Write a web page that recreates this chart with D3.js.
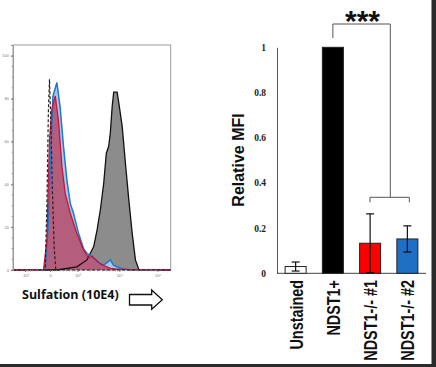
<!DOCTYPE html>
<html>
<head>
<meta charset="utf-8">
<script src="https://cdn.jsdelivr.net/npm/d3@7"></script>
<style>
  body { margin: 0; background: #fff; }
  svg { display: block; }
</style>
</head>
<body>
<svg id="chart" width="436" height="367"></svg>
<script>
// ---- histogram data: [channel (0-1024), count] ----
var unstainedHist = [[0, 0], [209, 0], [220, 30], [230, 75], [237, 89], [246, 68], [256, 37], [267, 11], [278, 0], [1024, 0]];
var ndstPosHist = [[0, 0], [285, 0], [415, 1.5], [480, 4.7], [524, 10.9], [546, 18.7], [567, 28], [589, 40.5], [606, 54.5],
  [621, 57.6], [632, 64], [644, 76.3], [654, 83], [676, 83], [687, 78], [709, 67], [730, 49.8], [752, 32.7],
  [774, 17.1], [795, 4.7], [817, 0.3], [828, 0], [1024, 0]];
var ko1Hist = [[0, 0], [198, 0], [220, 14], [237, 60.7], [252, 74.8], [274, 81.3], [295, 70], [318, 48], [339, 35.8],
  [372, 26.5], [415, 17], [458, 9.3], [491, 5.5], [513, 6.5], [535, 5], [567, 2.8], [632, 0.8], [698, 0.3], [1024, 0]];
var ko2Hist = [[0, 0], [209, 0], [228, 20], [241, 45], [259, 81], [285, 87.5], [306, 76], [328, 57.6], [350, 42],
  [372, 31], [393, 26.5], [426, 17], [458, 10], [480, 7.8], [513, 6.2], [546, 3.9], [587, 2.3], [613, 3.5],
  [632, 4.7], [652, 2.3], [698, 0.8], [763, 0], [1024, 0]];
var histTickChannels = [78, 241, 419, 691, 939];
var histTickLabels = ['-10\u00b3', '0', '10\u00b3', '10\u2074', '10\u2075'];
var histYTicks = [0, 20, 40, 60, 80, 100];

// ---- bar chart data ----
var categories = ['Unstained', 'NDST1+', 'NDST1-/- #1', 'NDST1-/- #2'];
var mfiValues = [0.03, 1.0, 0.133, 0.152];
var mfiErrors = [0.02, 0, 0.13, 0.058];
var barColors = ['#ffffff', '#000000', '#ff0000', '#1f6fc4'];
var mfiTicks = [0, 0.2, 0.4, 0.6, 0.8, 1];

var svg = d3.select('#chart');

// ================= histogram =================
var hx = d3.scaleLinear().domain([0, 1024]).range([13, 170.7]);
var hy = d3.scaleLinear().domain([0, 105]).range([270, 45]);

svg.append('rect')
  .attr('x', 13).attr('y', 45)
  .attr('width', 157.7).attr('height', 225)
  .attr('fill', 'none').attr('stroke', '#9a9a9a').attr('stroke-width', 1);

var area = d3.area()
  .x(function (d) { return hx(d[0]); })
  .y0(hy(0))
  .y1(function (d) { return hy(d[1]); });
var line = d3.line()
  .x(function (d) { return hx(d[0]); })
  .y(function (d) { return hy(d[1]); });

var plot = svg.append('g');
plot.append('path').datum(ndstPosHist).attr('d', area).attr('fill', '#8c8c8c');
plot.append('path').datum(ko2Hist).attr('d', area).attr('fill', '#a9c6e6');
plot.append('path').datum(ko1Hist).attr('d', area).attr('fill', '#b84262').attr('fill-opacity', 0.8);
plot.append('path').datum(ndstPosHist).attr('d', line).attr('fill', 'none').attr('stroke', '#111').attr('stroke-width', 1.3);
plot.append('path').datum(ko2Hist).attr('d', line).attr('fill', 'none').attr('stroke', '#1f78c8').attr('stroke-width', 1.5);
plot.append('path').datum(ko1Hist).attr('d', line).attr('fill', 'none').attr('stroke', '#c8143c').attr('stroke-width', 1.3);
plot.append('path').datum(unstainedHist).attr('d', line).attr('fill', 'none').attr('stroke', '#222')
  .attr('stroke-width', 1.2).attr('stroke-dasharray', '3,2');

// histogram axes
var hyAxis = d3.axisLeft(hy).tickValues(histYTicks).tickSize(2).tickPadding(2);
var gy = svg.append('g').attr('transform', 'translate(13,0)').call(hyAxis);
gy.select('.domain').attr('stroke', '#9a9a9a');
gy.selectAll('text').attr('font-size', 4).attr('fill', '#777').attr('font-family', 'Liberation Sans, Arial, sans-serif');
gy.selectAll('line').attr('stroke', '#777');
var minorY = d3.range(0, 101, 5);
gy.selectAll('.minor').data(minorY).enter().append('line')
  .attr('x1', -1.2).attr('x2', 0)
  .attr('y1', function (d) { return hy(d); }).attr('y2', function (d) { return hy(d); })
  .attr('stroke', '#888');

var hxAxis = d3.axisBottom(hx).tickValues(histTickChannels).tickSize(2).tickPadding(2)
  .tickFormat(function (d, i) { return histTickLabels[i]; });
var gx = svg.append('g').attr('transform', 'translate(0,270)').call(hxAxis);
gx.select('.domain').remove();
gx.selectAll('text').attr('font-size', 4).attr('fill', '#777').attr('font-family', 'Liberation Sans, Arial, sans-serif');
gx.selectAll('line').attr('stroke', '#777');
// minor log ticks inside each decade
var minorX = [];
for (var k = 0; k < histTickChannels.length - 1; k++) {
  var a = histTickChannels[k], b = histTickChannels[k + 1];
  for (var m = 2; m < 10; m++) {
    if (k === 0) minorX.push(b - Math.log10(m) * (b - a));
    else if (k === 1) minorX.push(a + Math.pow(Math.log10(m), 2) * (b - a));
    else minorX.push(a + Math.log10(m) * (b - a));
  }
}
gx.selectAll('.minor').data(minorX).enter().append('line')
  .attr('x1', function (d) { return hx(d); }).attr('x2', function (d) { return hx(d); })
  .attr('y1', 0).attr('y2', 1.3).attr('stroke', '#888');

svg.append('text')
  .attr('x', 22).attr('y', 299)
  .attr('font-family', 'Open Sans, Liberation Sans, sans-serif')
  .attr('font-weight', 'bold').attr('font-size', 12.5)
  .attr('fill', '#111')
  .text('Sulfation (10E4)');

// block arrow
var arrow = d3.path();
arrow.moveTo(129.5, 294.5); arrow.lineTo(151.7, 294.5); arrow.lineTo(151.7, 290);
arrow.lineTo(162.3, 299.7); arrow.lineTo(151.7, 309.3); arrow.lineTo(151.7, 305);
arrow.lineTo(129.5, 305); arrow.closePath();
svg.append('path').attr('d', arrow.toString()).attr('fill', '#fff').attr('stroke', '#111').attr('stroke-width', 1.3);

// ================= bar chart =================
var bx = d3.scaleBand().domain(categories).range([277, 426]).paddingInner(0.436).paddingOuter(0.218);
var by = d3.scaleLinear().domain([0, 1]).range([273.3, 47.3]);

var yAxis = d3.axisLeft(by).tickValues(mfiTicks).tickSize(0).tickPadding(11)
  .tickFormat(function (d) { return d === 0 || d === 1 ? d3.format('d')(d) : d3.format('.1f')(d); });
var gby = svg.append('g').attr('transform', 'translate(277,0)').call(yAxis);
gby.select('.domain').attr('stroke', '#555').attr('stroke-width', 1);
gby.selectAll('text').attr('font-family', 'Liberation Serif, serif').attr('font-weight', 'bold')
  .attr('font-size', 9.5).attr('fill', '#222');

svg.append('line').attr('x1', 277).attr('x2', 426).attr('y1', by(0)).attr('y2', by(0))
  .attr('stroke', '#444').attr('stroke-width', 1);

var bars = svg.append('g').selectAll('g').data(categories).enter().append('g');
bars.append('rect')
  .attr('x', function (d) { return bx(d); })
  .attr('width', bx.bandwidth())
  .attr('y', function (d, i) { return by(mfiValues[i]); })
  .attr('height', function (d, i) { return by(0) - by(mfiValues[i]); })
  .attr('fill', function (d, i) { return barColors[i]; })
  .attr('stroke', '#222').attr('stroke-width', 1);

var errs = bars.filter(function (d, i) { return mfiErrors[i] > 0; });
errs.append('line')
  .attr('x1', function (d) { return bx(d) + bx.bandwidth() / 2; })
  .attr('x2', function (d) { return bx(d) + bx.bandwidth() / 2; })
  .attr('y1', function (d) { var i = categories.indexOf(d); return by(mfiValues[i] + mfiErrors[i]); })
  .attr('y2', function (d) { var i = categories.indexOf(d); return by(Math.max(0, mfiValues[i] - mfiErrors[i])); })
  .attr('stroke', '#111').attr('stroke-width', 1.2);
[1, -1].forEach(function (s) {
  errs.append('line')
    .attr('x1', function (d) { return bx(d) + bx.bandwidth() / 2 - 4; })
    .attr('x2', function (d) { return bx(d) + bx.bandwidth() / 2 + 4; })
    .attr('y1', function (d) { var i = categories.indexOf(d); return by(Math.max(0, mfiValues[i] + s * mfiErrors[i])); })
    .attr('y2', function (d) { var i = categories.indexOf(d); return by(Math.max(0, mfiValues[i] + s * mfiErrors[i])); })
    .attr('stroke', '#111').attr('stroke-width', 1.2);
});

// category labels, rotated
bars.append('text')
  .attr('transform', function (d) { return 'translate(' + (bx(d) + bx.bandwidth() / 2 + 7) + ',280) rotate(-90) scale(0.8,1)'; })
  .attr('text-anchor', 'end')
  .attr('font-family', 'Liberation Sans, Arial, sans-serif')
  .attr('font-weight', 'bold').attr('font-size', 18).attr('fill', '#111')
  .text(function (d) { return d; });

svg.append('text')
  .attr('transform', 'translate(244,160) rotate(-90)')
  .attr('text-anchor', 'middle')
  .attr('font-family', 'Liberation Sans, Arial, sans-serif')
  .attr('font-weight', 'bold').attr('font-size', 16).attr('fill', '#111')
  .text('Relative MFI');

// significance brackets
var cx = function (c) { return bx(c) + bx.bandwidth() / 2; };
var brTop = 24, brLow = 197.3;
var br = d3.path();
br.moveTo(cx('NDST1+'), 38); br.lineTo(cx('NDST1+'), brTop); br.lineTo(390.3, brTop); br.lineTo(390.3, brLow);
br.moveTo(370, brLow + 5); br.lineTo(370, brLow); br.lineTo(409.3, brLow); br.lineTo(409.3, brLow + 5);
svg.append('path').attr('d', br.toString()).attr('fill', 'none').attr('stroke', '#555').attr('stroke-width', 1);

svg.append('text')
  .attr('x', 362.5).attr('y', 31)
  .attr('text-anchor', 'middle')
  .attr('font-family', 'Liberation Sans, Arial, sans-serif')
  .attr('font-weight', 'bold').attr('font-size', 30).attr('fill', '#111')
  .text('***');

// dark screenshot edges
svg.append('rect').attr('x', 431.5).attr('y', 0).attr('width', 5).attr('height', 367).attr('fill', '#2b2b2b');
svg.append('rect').attr('x', 0).attr('y', 364).attr('width', 436).attr('height', 3).attr('fill', '#2b2b2b');
</script>
</body>
</html>
